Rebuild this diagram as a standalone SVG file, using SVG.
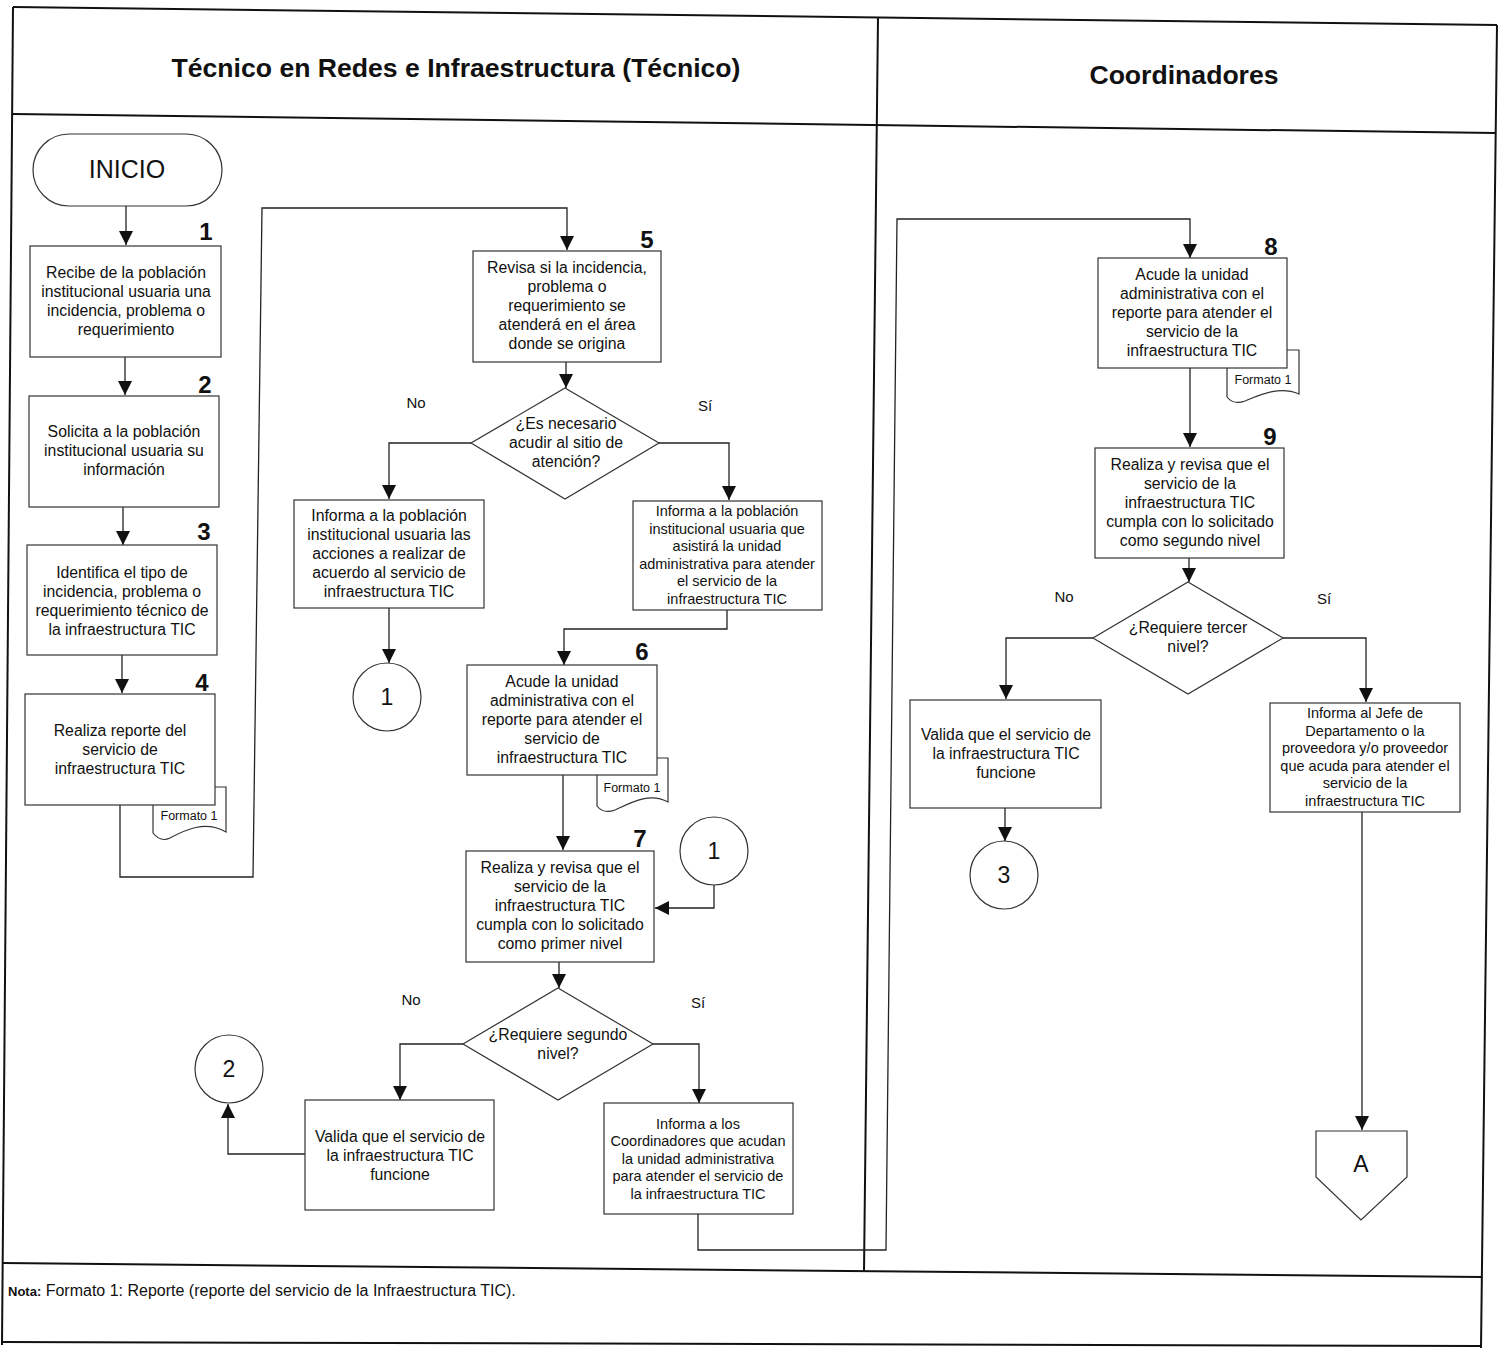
<svg xmlns="http://www.w3.org/2000/svg" width="1501" height="1350" viewBox="0 0 1501 1350">
<defs>
<marker id="ah" markerUnits="userSpaceOnUse" markerWidth="14" markerHeight="14" refX="14" refY="7" orient="auto" viewBox="0 0 14 14">
<path d="M0,0 L14,7 L0,14 z" fill="#111"/>
</marker>
<style>
.lane{stroke:#111;stroke-width:2;fill:none}
.box{fill:#fff;stroke:#333;stroke-width:1.2}
.con{fill:none;stroke:#222;stroke-width:1.3}
.t{font-family:"Liberation Sans",Arial,sans-serif;font-size:15.8px;fill:#111;text-anchor:middle}
.ts{font-family:"Liberation Sans",Arial,sans-serif;font-size:14.5px;fill:#111;text-anchor:middle}
.num{font-family:"Liberation Sans",Arial,sans-serif;font-size:24px;font-weight:bold;fill:#111;text-anchor:middle}
.hd{font-family:"Liberation Sans",Arial,sans-serif;font-size:26.6px;font-weight:bold;fill:#111;text-anchor:middle}
.fm{font-family:"Liberation Sans",Arial,sans-serif;font-size:12.5px;fill:#111;text-anchor:middle}
.lb{font-family:"Liberation Sans",Arial,sans-serif;font-size:15px;fill:#111;text-anchor:middle}
.cir{font-family:"Liberation Sans",Arial,sans-serif;font-size:23px;fill:#111;text-anchor:middle}
</style>
</defs>
<rect width="1501" height="1350" fill="#fff"/>

<g id="lanes">
<line class="lane" x1="13" y1="7" x2="1497" y2="25"/>
<line class="lane" x1="13" y1="114" x2="1496" y2="133"/>
<line class="lane" x1="13" y1="7" x2="2" y2="1345"/>
<line class="lane" x1="878" y1="17" x2="864" y2="1272"/>
<line class="lane" x1="1497" y1="25" x2="1481" y2="1348"/>
<line class="lane" x1="3" y1="1263" x2="1481" y2="1277"/>
<line class="lane" x1="2" y1="1342" x2="1481" y2="1346"/>
<text class="hd" x="456" y="77">Técnico en Redes e Infraestructura (Técnico)</text>
<text class="hd" x="1184" y="84">Coordinadores</text>
</g>

<g id="connectors">
<line class="con" x1="126" y1="206" x2="126" y2="245" marker-end="url(#ah)"/>
<line class="con" x1="125" y1="357" x2="125" y2="395" marker-end="url(#ah)"/>
<line class="con" x1="123" y1="507" x2="123" y2="545" marker-end="url(#ah)"/>
<line class="con" x1="122" y1="655" x2="122" y2="693" marker-end="url(#ah)"/>
<path class="con" d="M120,805 V877 H253 L262,208 H567 V250" marker-end="url(#ah)"/>
<line class="con" x1="566" y1="362" x2="566" y2="388" marker-end="url(#ah)"/>
<path class="con" d="M471,443 H389 V499" marker-end="url(#ah)"/>
<path class="con" d="M659,443 H729 V500" marker-end="url(#ah)"/>
<path class="con" d="M389,608 V663" marker-end="url(#ah)"/>
<path class="con" d="M727,610 V629 H564 V665" marker-end="url(#ah)"/>
<line class="con" x1="563" y1="775" x2="563" y2="850" marker-end="url(#ah)"/>
<path class="con" d="M714,885 V908 H655" marker-end="url(#ah)"/>
<line class="con" x1="559" y1="962" x2="559" y2="988" marker-end="url(#ah)"/>
<path class="con" d="M463,1044 H400 V1100" marker-end="url(#ah)"/>
<path class="con" d="M305,1154 H228 V1104" marker-end="url(#ah)"/>
<path class="con" d="M653,1044 H699 V1103" marker-end="url(#ah)"/>
<path class="con" d="M698,1214 V1250 H886 L897,219 H1190 V258" marker-end="url(#ah)"/>
<line class="con" x1="1190" y1="368" x2="1190" y2="447" marker-end="url(#ah)"/>
<line class="con" x1="1189" y1="558" x2="1189" y2="582" marker-end="url(#ah)"/>
<path class="con" d="M1093,638 H1006 V699" marker-end="url(#ah)"/>
<line class="con" x1="1005" y1="808" x2="1005" y2="841" marker-end="url(#ah)"/>
<path class="con" d="M1283,638 H1366 V702" marker-end="url(#ah)"/>
<line class="con" x1="1362" y1="812" x2="1362" y2="1130" marker-end="url(#ah)"/>
<text class="lb" x="416" y="408">No</text>
<text class="lb" x="705" y="411">Sí</text>
<text class="lb" x="411" y="1005">No</text>
<text class="lb" x="698" y="1008">Sí</text>
<text class="lb" x="1064" y="602">No</text>
<text class="lb" x="1324" y="604">Sí</text>
</g>

<g id="inicio">
<rect class="box" x="33" y="134" width="189" height="72" rx="36" ry="36"/>
<text class="cir" x="127" y="178" style="font-size:25px">INICIO</text>
</g>

<g id="n1">
<rect class="box" x="30" y="246" width="191" height="111"/>
<text class="num" x="206" y="240">1</text>
<text class="t" x="126" y="278"><tspan x="126">Recibe de la población</tspan><tspan x="126" dy="19">institucional usuaria una</tspan><tspan x="126" dy="19">incidencia, problema o</tspan><tspan x="126" dy="19">requerimiento</tspan></text>
</g>

<g id="n2">
<rect class="box" x="29" y="396" width="190" height="111"/>
<text class="num" x="205" y="393">2</text>
<text class="t" x="124" y="437"><tspan x="124">Solicita a la población</tspan><tspan x="124" dy="19">institucional usuaria su</tspan><tspan x="124" dy="19">información</tspan></text>
</g>

<g id="n3">
<rect class="box" x="27" y="545" width="190" height="110"/>
<text class="num" x="204" y="540">3</text>
<text class="t" x="122" y="578"><tspan x="122">Identifica el tipo de</tspan><tspan x="122" dy="19">incidencia, problema o</tspan><tspan x="122" dy="19">requerimiento técnico de</tspan><tspan x="122" dy="19">la infraestructura TIC</tspan></text>
</g>

<g id="n4">
<path class="box" d="M153,787 H226 V832 C205,820 185,830 170,838 C162,842 157,838 153,833 Z"/>
<text class="fm" x="189" y="820">Formato 1</text>
<rect class="box" x="25" y="694" width="190" height="111"/>
<text class="num" x="202" y="691">4</text>
<text class="t" x="120" y="736"><tspan x="120">Realiza reporte del</tspan><tspan x="120" dy="19">servicio de</tspan><tspan x="120" dy="19">infraestructura TIC</tspan></text>
</g>

<g id="n5">
<rect class="box" x="473" y="251" width="188" height="111"/>
<text class="num" x="647" y="248">5</text>
<text class="t" x="567" y="273"><tspan x="567">Revisa si la incidencia,</tspan><tspan x="567" dy="19">problema o</tspan><tspan x="567" dy="19">requerimiento se</tspan><tspan x="567" dy="19">atenderá en el área</tspan><tspan x="567" dy="19">donde se origina</tspan></text>
</g>

<g id="d1">
<polygon class="box" points="565,388 659,443 565,499 471,443"/>
<text class="t" x="566" y="429"><tspan x="566">¿Es necesario</tspan><tspan x="566" dy="19">acudir al sitio de</tspan><tspan x="566" dy="19">atención?</tspan></text>
</g>

<g id="n5no">
<rect class="box" x="294" y="500" width="190" height="108"/>
<text class="t" x="389" y="521"><tspan x="389">Informa a la población</tspan><tspan x="389" dy="19">institucional usuaria las</tspan><tspan x="389" dy="19">acciones a realizar de</tspan><tspan x="389" dy="19">acuerdo al servicio de</tspan><tspan x="389" dy="19">infraestructura TIC</tspan></text>
</g>

<g id="n5si">
<rect class="box" x="633" y="501" width="189" height="109"/>
<text class="ts" x="727" y="516"><tspan x="727">Informa a la población</tspan><tspan x="727" dy="17.6">institucional usuaria que</tspan><tspan x="727" dy="17.6">asistirá la unidad</tspan><tspan x="727" dy="17.6">administrativa para atender</tspan><tspan x="727" dy="17.6">el servicio de la</tspan><tspan x="727" dy="17.6">infraestructura TIC</tspan></text>
</g>

<g id="c1a">
<circle class="box" cx="387" cy="697" r="34"/>
<text class="cir" x="387" y="705">1</text>
</g>

<g id="n6">
<path class="box" d="M597,758 H668 V802 C650,792 632,802 615,810 C607,813 601,811 597,806 Z"/>
<text class="fm" x="632" y="792">Formato 1</text>
<rect class="box" x="467" y="665" width="190" height="110"/>
<text class="num" x="642" y="660">6</text>
<text class="t" x="562" y="687"><tspan x="562">Acude la unidad</tspan><tspan x="562" dy="19">administrativa con el</tspan><tspan x="562" dy="19">reporte para atender el</tspan><tspan x="562" dy="19">servicio de</tspan><tspan x="562" dy="19">infraestructura TIC</tspan></text>
</g>

<g id="c1b">
<circle class="box" cx="714" cy="851" r="34"/>
<text class="cir" x="714" y="859">1</text>
</g>

<g id="n7">
<rect class="box" x="466" y="851" width="188" height="111"/>
<text class="num" x="640" y="847">7</text>
<text class="t" x="560" y="873"><tspan x="560">Realiza y revisa que el</tspan><tspan x="560" dy="19">servicio de la</tspan><tspan x="560" dy="19">infraestructura TIC</tspan><tspan x="560" dy="19">cumpla con lo solicitado</tspan><tspan x="560" dy="19">como primer nivel</tspan></text>
</g>

<g id="d2">
<polygon class="box" points="558,988 653,1044 558,1100 463,1044"/>
<text class="t" x="558" y="1040"><tspan x="558">¿Requiere segundo</tspan><tspan x="558" dy="19">nivel?</tspan></text>
</g>

<g id="n7no">
<rect class="box" x="305" y="1100" width="189" height="110"/>
<text class="t" x="400" y="1142"><tspan x="400">Valida que el servicio de</tspan><tspan x="400" dy="19">la infraestructura TIC</tspan><tspan x="400" dy="19">funcione</tspan></text>
</g>

<g id="c2">
<circle class="box" cx="229" cy="1069" r="34"/>
<text class="cir" x="229" y="1077">2</text>
</g>

<g id="n7si">
<rect class="box" x="604" y="1103" width="189" height="111"/>
<text class="ts" x="698" y="1129"><tspan x="698">Informa a los</tspan><tspan x="698" dy="17.4">Coordinadores que acudan</tspan><tspan x="698" dy="17.4">la unidad administrativa</tspan><tspan x="698" dy="17.4">para atender el servicio de</tspan><tspan x="698" dy="17.4">la infraestructura TIC</tspan></text>
</g>

<g id="n8">
<path class="box" d="M1227,350 H1299 V394 C1280,386 1262,394 1245,401 C1237,404 1231,402 1227,397 Z"/>
<text class="fm" x="1263" y="384">Formato 1</text>
<rect class="box" x="1098" y="258" width="189" height="110"/>
<text class="num" x="1271" y="255">8</text>
<text class="t" x="1192" y="280"><tspan x="1192">Acude la unidad</tspan><tspan x="1192" dy="19">administrativa con el</tspan><tspan x="1192" dy="19">reporte para atender el</tspan><tspan x="1192" dy="19">servicio de la</tspan><tspan x="1192" dy="19">infraestructura TIC</tspan></text>
</g>

<g id="n9">
<rect class="box" x="1095" y="448" width="189" height="110"/>
<text class="num" x="1270" y="445">9</text>
<text class="t" x="1190" y="470"><tspan x="1190">Realiza y revisa que el</tspan><tspan x="1190" dy="19">servicio de la</tspan><tspan x="1190" dy="19">infraestructura TIC</tspan><tspan x="1190" dy="19">cumpla con lo solicitado</tspan><tspan x="1190" dy="19">como segundo nivel</tspan></text>
</g>

<g id="d3">
<polygon class="box" points="1188,582 1283,638 1188,694 1093,638"/>
<text class="t" x="1188" y="633"><tspan x="1188">¿Requiere tercer</tspan><tspan x="1188" dy="19">nivel?</tspan></text>
</g>

<g id="n9no">
<rect class="box" x="910" y="700" width="191" height="108"/>
<text class="t" x="1006" y="740"><tspan x="1006">Valida que el servicio de</tspan><tspan x="1006" dy="19">la infraestructura TIC</tspan><tspan x="1006" dy="19">funcione</tspan></text>
</g>

<g id="c3">
<circle class="box" cx="1004" cy="875" r="34"/>
<text class="cir" x="1004" y="883">3</text>
</g>

<g id="n9si">
<rect class="box" x="1270" y="703" width="190" height="109"/>
<text class="ts" x="1365" y="718"><tspan x="1365">Informa al Jefe de</tspan><tspan x="1365" dy="17.6">Departamento o la</tspan><tspan x="1365" dy="17.6">proveedora y/o proveedor</tspan><tspan x="1365" dy="17.6">que acuda para atender el</tspan><tspan x="1365" dy="17.6">servicio de la</tspan><tspan x="1365" dy="17.6">infraestructura TIC</tspan></text>
</g>

<g id="offA">
<polygon class="box" points="1316,1131 1407,1131 1407,1177 1361,1220 1316,1177"/>
<text class="cir" x="1361" y="1172">A</text>
</g>

<g id="nota">
<text x="8" y="1296" style="font-family:'Liberation Sans',Arial,sans-serif;font-size:16px;fill:#111"><tspan font-weight="bold" font-size="13px">Nota:</tspan> Formato 1: Reporte (reporte del servicio de la Infraestructura TIC).</text>
</g>
</svg>
